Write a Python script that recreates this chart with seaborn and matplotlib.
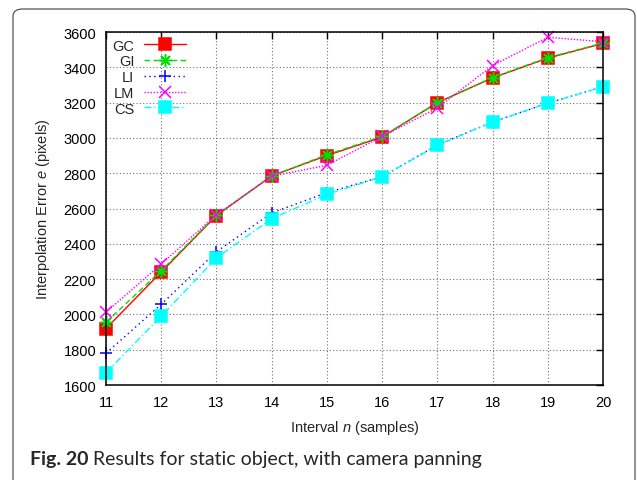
import numpy as np
import pandas as pd
import matplotlib
matplotlib.use("Agg")
import matplotlib.pyplot as plt
import seaborn as sns
from matplotlib.patches import FancyBboxPatch

# ---- data ----
intervals = [11, 12, 13, 14, 15, 16, 17, 18, 19, 20]
methods = ["GC", "GI", "LI", "LM", "CS"]
gc = [1920, 2240, 2560, 2785, 2900, 3005, 3200, 3340, 3452, 3535]
gi = [1955, 2248, 2562, 2783, 2905, 3008, 3198, 3342, 3455, 3537]
li = [1780, 2057, 2355, 2575, 2690, 2780, 2960, 3090, 3197, 3290]
lm = [2012, 2285, 2565, 2783, 2845, 3008, 3170, 3410, 3570, 3545]
cs = [1670, 1990, 2320, 2542, 2680, 2780, 2958, 3090, 3197, 3290]
series = {"GC": gc, "GI": gi, "LI": li, "LM": lm, "CS": cs}
yticks = [1600, 1800, 2000, 2200, 2400, 2600, 2800, 3000, 3200, 3400, 3600]
caption_bold = "Fig. 20"
caption_rest = " Results for static object, with camera panning"

df = pd.DataFrame(
    [(x, m, v) for m in methods for x, v in zip(intervals, series[m])],
    columns=["interval", "method", "error"],
)

sns.set_style("white")
plt.rcParams["font.family"] = ["Liberation Sans", "DejaVu Sans"]
plt.rcParams["mathtext.fontset"] = "custom"
plt.rcParams["mathtext.it"] = "Liberation Sans:italic"
plt.rcParams["mathtext.rm"] = "Liberation Sans"

W, H = 637, 481
fig = plt.figure(figsize=(W / 100, H / 100), dpi=100)
fig.patch.set_facecolor("white")

# outer rounded frame
frame = FancyBboxPatch((13 / W, -20 / H), (635 - 13) / W, (H - 10 + 20) / H,
                       boxstyle="round,pad=0,rounding_size=0.015",
                       transform=fig.transFigure, fill=False,
                       edgecolor="#555555", linewidth=0.9, zorder=0)
fig.patches.append(frame)

ax = fig.add_axes([106 / W, 1 - 386 / H, (603 - 106) / W, (386 - 33) / H])

palette = {"GC": "#ff0000", "GI": "#00e000", "LI": "#0000ff", "LM": "#ff00ff", "CS": "#00ffff"}
markers = {"GC": "s", "GI": (8, 2, 0), "LI": "+", "LM": "x", "CS": "s"}
linestyles = {"GC": "-", "GI": (0, (4, 2.5)), "LI": (0, (1, 2.5)),
              "LM": (0, (1, 1.2)), "CS": (0, (5, 2, 1, 2))}

for m in methods:
    sub = df[df["method"] == m]
    sns.lineplot(data=sub, x="interval", y="error", color=palette[m],
                 marker=markers[m], linestyle=linestyles[m], markersize=9,
                 linewidth=1.0, ax=ax, label=m)

for line in ax.get_lines():
    c = line.get_color()
    line.set_markeredgecolor(c)
    line.set_markerfacecolor(c)
    line.set_markeredgewidth(1.1)
    line.set_clip_on(False)

ax.set_xlim(11, 20)
ax.set_ylim(1600, 3600)
ax.set_xticks(intervals)
ax.set_yticks(yticks)
ax.tick_params(direction="in", length=5, width=1, top=True, right=True,
               labelsize=10.5, pad=7, colors="black")
ax.grid(True, color="#707070", linestyle=(0, (1, 2)), linewidth=0.8)
for s in ax.spines.values():
    s.set_visible(True)
    s.set_color("black")
    s.set_linewidth(1.1)

ax.set_xlabel("Interval $n$ (samples)", fontsize=10.5, labelpad=7)
ax.set_ylabel("Interpolation Error $e$ (pixels)", fontsize=10.5, labelpad=8)

leg = ax.legend(handles=ax.get_lines()[:5], labels=methods, loc="upper left",
                bbox_to_anchor=(0.0, 1.0), markerfirst=False, frameon=False,
                fontsize=10.5, handlelength=2.9, handletextpad=0.65,
                labelspacing=0.12, borderaxespad=0.25, borderpad=0.2)

# caption
t1 = fig.text(30 / W, 1 - 465 / H, caption_bold, fontsize=14, fontweight="bold",
              family=["Lato", "DejaVu Sans"], ha="left", va="baseline")
fig.canvas.draw()
bb = t1.get_window_extent(renderer=fig.canvas.get_renderer())
fig.text(bb.x1 / W, 1 - 465 / H, caption_rest, fontsize=14,
         family=["Lato", "DejaVu Sans"], ha="left", va="baseline")

fig.savefig("out.png", dpi=100, facecolor="white")
